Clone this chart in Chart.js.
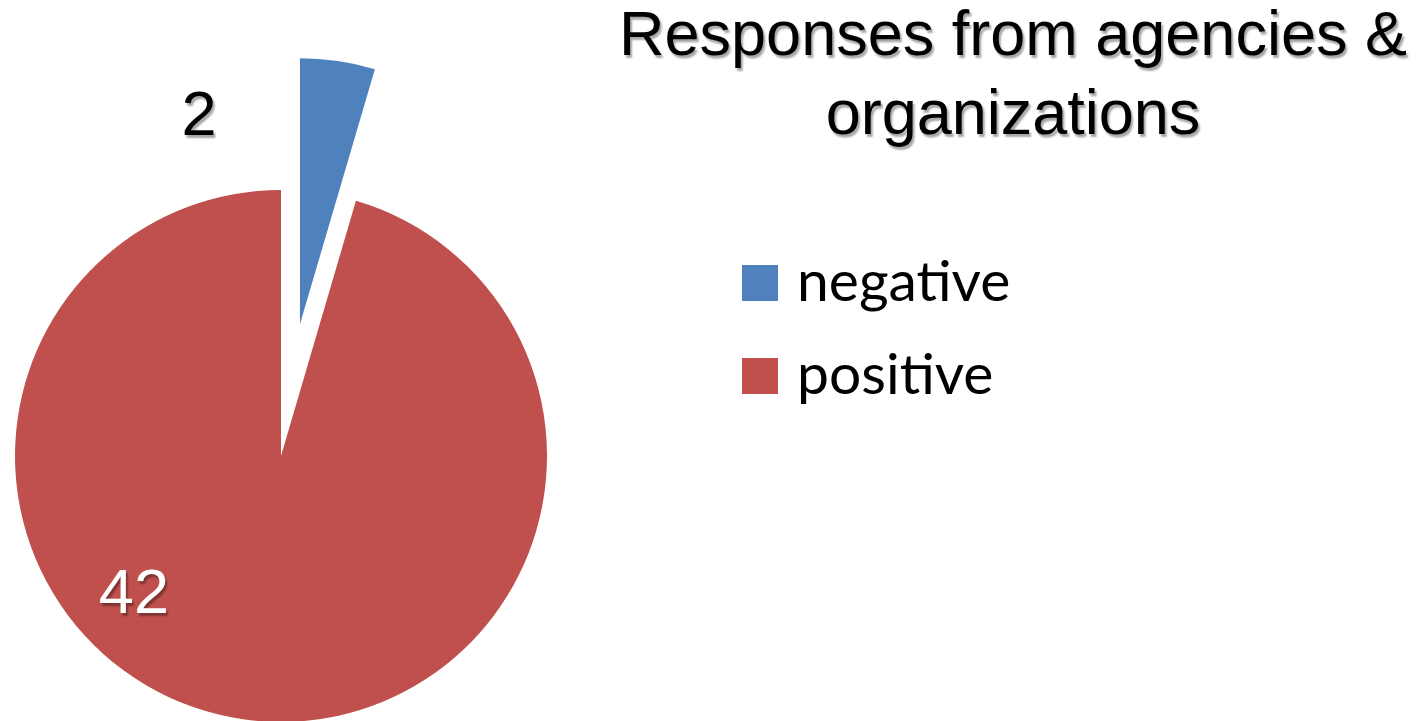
<!DOCTYPE html>
<html><head><meta charset="utf-8">
<script src="https://cdn.jsdelivr.net/npm/chart.js@4.4.0/dist/chart.umd.min.js"></script>
<style>
html,body{margin:0;padding:0;background:#fff;overflow:hidden}
#wrap{position:relative;width:1421px;height:721px}
</style>
</head><body>
<div id="wrap"><canvas id="c" width="1421" height="721"></canvas></div>
<script>
const titleLines = ['Responses from agencies &', 'organizations'];
const categories = ['negative', 'positive'];
const values = [2, 42];
const sliceColors = ['#4F81BD', '#C0504D'];
const labelColors = ['#000000', '#FFFFFF'];

// explode a slice outward along its bisector (library arc drawing, translated)
const explodePlugin = {
  id: 'explode',
  beforeDatasetsDraw(chart, args, opts) {
    const meta = chart.getDatasetMeta(0);
    meta.data.forEach((arc, i) => {
      if (!arc._explodeWrapped) {
        const orig = arc.draw;
        arc.draw = function (ctx, area) {
          const dist = this._explode || 0;
          const mid = (this.startAngle + this.endAngle) / 2;
          ctx.save();
          ctx.translate(Math.cos(mid) * dist, Math.sin(mid) * dist);
          orig.call(this, ctx, area);
          ctx.restore();
        };
        arc._explodeWrapped = true;
      }
      arc._explode = (opts.distances || [])[i] || 0;
    });
  }
};

function shadowText(ctx, text, x, y, color, shadow) {
  ctx.save();
  ctx.shadowColor = shadow;
  ctx.shadowOffsetX = 2;
  ctx.shadowOffsetY = 3;
  ctx.shadowBlur = 2;
  ctx.fillStyle = color;
  ctx.fillText(text, x, y);
  ctx.restore();
}

const valueLabelPlugin = {
  id: 'valueLabels',
  afterDatasetsDraw(chart, args, opts) {
    const ctx = chart.ctx;
    const meta = chart.getDatasetMeta(0);
    const ds = chart.data.datasets[0];
    meta.data.forEach((arc, i) => {
      const r = arc.outerRadius;
      const a = opts.anchors[i];
      ctx.save();
      ctx.font = opts.font;
      ctx.textAlign = 'center';
      ctx.textBaseline = 'alphabetic';
      shadowText(ctx, String(ds.data[i]), arc.x + a[0] * r, arc.y + a[1] * r, labelColors[i], 'rgba(0,0,0,0.35)');
      ctx.restore();
    });
  }
};

const sideTextPlugin = {
  id: 'sideText',
  afterDraw(chart, args, opts) {
    const ctx = chart.ctx;
    ctx.save();
    // title
    ctx.font = opts.titleFont;
    ctx.textAlign = 'center';
    ctx.textBaseline = 'alphabetic';
    titleLines.forEach((line, i) => {
      shadowText(ctx, line, opts.titleX, opts.titleY + i * opts.titleLineHeight, '#000', 'rgba(0,0,0,0.35)');
    });
    // legend
    const ds = chart.data.datasets[0];
    ctx.font = opts.legendFont;
    ctx.textAlign = 'left';
    chart.data.labels.forEach((lab, i) => {
      const y = opts.legendY + i * opts.legendStep;
      ctx.fillStyle = ds.backgroundColor[i];
      ctx.fillRect(opts.legendX, y, opts.box, opts.box);
      ctx.fillStyle = '#000';
      ctx.fillText(lab, opts.legendX + opts.box + opts.textGap, y + opts.textBaseline);
    });
    ctx.restore();
  }
};

new Chart(document.getElementById('c'), {
  type: 'pie',
  data: {
    labels: categories,
    datasets: [{
      data: values,
      backgroundColor: sliceColors,
      borderWidth: 0,
      radius: 266,
      clip: false
    }]
  },
  options: {
    responsive: false,
    animation: false,
    events: [],
    layout: { padding: { left: 0, right: 859, top: 191, bottom: 0 } },
    plugins: {
      legend: { display: false },
      title: { display: false },
      tooltip: { enabled: false },
      explode: { distances: [133, 0] },
      valueLabels: {
        font: '63px "Liberation Sans", Arial, sans-serif',
        anchors: [[-0.308, -1.207], [-0.553, 0.590]]
      },
      sideText: {
        titleFont: '63px "Liberation Sans", Arial, sans-serif',
        titleX: 1013, titleY: 55, titleLineHeight: 79,
        legendFont: '57px Lato, "Noto Sans", sans-serif',
        legendX: 742, legendY: 265, legendStep: 93, box: 36, textGap: 19, textBaseline: 36
      }
    }
  },
  plugins: [explodePlugin, valueLabelPlugin, sideTextPlugin]
});
</script>
</body></html>
